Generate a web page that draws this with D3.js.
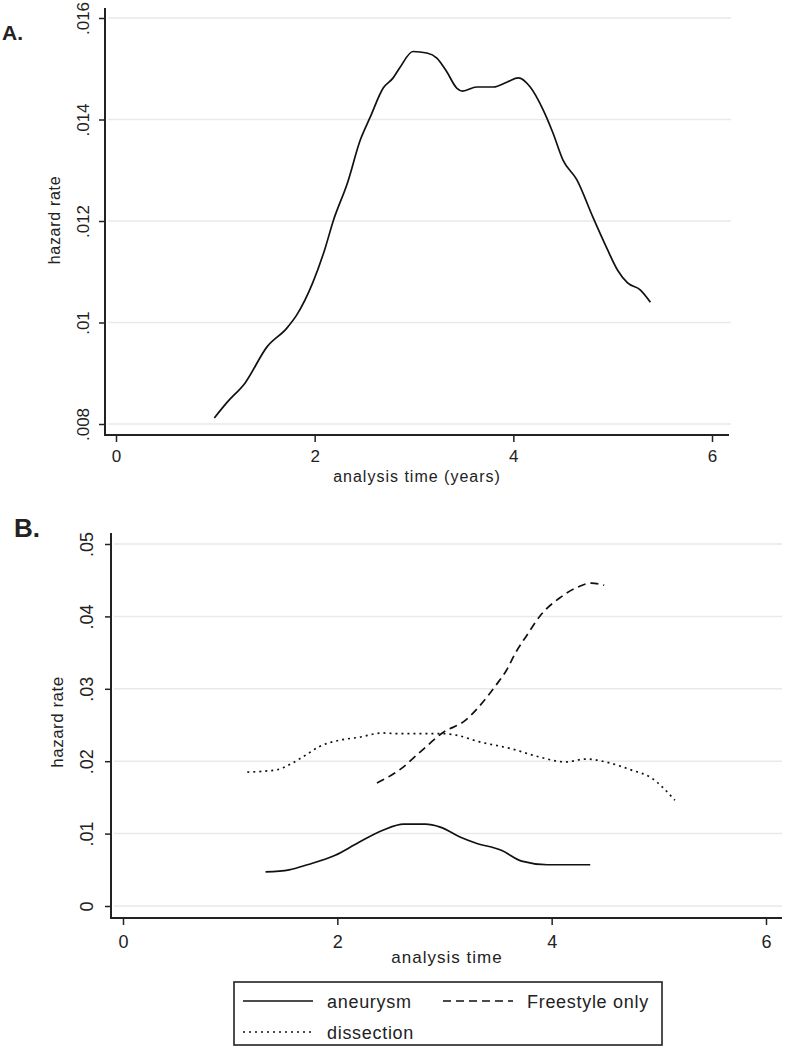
<!DOCTYPE html>
<html>
<head>
<meta charset="utf-8">
<script src="https://cdn.jsdelivr.net/npm/d3@7"></script>
<style>
  body { margin: 0; background: #fff; }
  text { font-family: "Liberation Sans", Arial, sans-serif; fill: #222; }
</style>
</head>
<body>
<svg width="806" height="1050"></svg>
<script>
// ---- data ----
// panel A: overall hazard
var timeA = [0.99, 1.12, 1.30, 1.52, 1.72, 1.82, 1.98, 2.10, 2.19, 2.33, 2.46, 2.56, 2.69, 2.79, 2.86,
             2.99, 3.13, 3.23, 3.33, 3.43, 3.49, 3.63, 3.80, 3.94, 4.05, 4.17, 4.30, 4.40, 4.50,
             4.64, 4.80, 4.94, 5.05, 5.15, 5.28, 5.38];
var hazardA = [0.00812, 0.00843, 0.00881, 0.00952, 0.00989, 0.01015, 0.01078, 0.01143, 0.01202, 0.01275,
               0.01360, 0.01405, 0.01462, 0.01482, 0.01503, 0.01534, 0.01531, 0.01521, 0.01494, 0.01462,
               0.01456, 0.01464, 0.01464, 0.01474, 0.01482, 0.01464, 0.01419, 0.01373, 0.01320, 0.01281,
               0.01208, 0.01147, 0.01103, 0.01078, 0.01064, 0.01040];

// panel B: hazard by group
var timeAneurysm = [1.33, 1.55, 1.72, 1.98, 2.19, 2.43, 2.62, 2.82, 2.96, 3.15, 3.29, 3.53, 3.72, 3.96, 4.36];
var hazardAneurysm = [0.0047, 0.0050, 0.0057, 0.0070, 0.0087, 0.0105, 0.0113, 0.0113, 0.0109, 0.0095,
                      0.0087, 0.0077, 0.0062, 0.0057, 0.0057];

var timeDissection = [1.16, 1.43, 1.55, 1.71, 1.83, 2.02, 2.20, 2.42, 2.58, 2.70, 2.98, 3.11, 3.32, 3.63,
                      3.88, 4.13, 4.32, 4.53, 4.74, 4.93, 5.15];
var hazardDissection = [0.0185, 0.0188, 0.0195, 0.0209, 0.0220, 0.0229, 0.0233, 0.0239, 0.0238, 0.0238,
                        0.0238, 0.0236, 0.0227, 0.0217, 0.0206, 0.0199, 0.0203, 0.0198, 0.0188, 0.0177, 0.0146];

var timeFreestyle = [2.37, 2.58, 2.79, 2.98, 3.20, 3.32, 3.48, 3.58, 3.66, 3.76, 3.91, 4.07, 4.25, 4.37, 4.49];
var hazardFreestyle = [0.0170, 0.0188, 0.0215, 0.0239, 0.0257, 0.0275, 0.0305, 0.0326, 0.0349, 0.0372,
                       0.0404, 0.0425, 0.0441, 0.0446, 0.0443];

// ticks
var xTicks = [0, 2, 4, 6];
var xLabels = ["0", "2", "4", "6"];
var yTicksA = [0.008, 0.010, 0.012, 0.014, 0.016];
var yLabelsA = [".008", ".01", ".012", ".014", ".016"];
var yTicksB = [0, 0.01, 0.02, 0.03, 0.04, 0.05];
var yLabelsB = ["0", ".01", ".02", ".03", ".04", ".05"];

var legendNames = ["aneurysm", "Freestyle only", "dissection"];

var svg = d3.select("svg");

function zip(xs, ys) { return xs.map(function(x, i) { return [x, ys[i]]; }); }

// draws one Stata-like panel
function panel(opt) {
    var x = d3.scaleLinear().domain([0, 6]).range(opt.xRange);
    var y = d3.scaleLinear().domain(opt.yDomain).range(opt.yRange);
    var g = svg.append("g");

    // grid
    g.selectAll(".grid")
        .data(opt.yTicks)
        .enter().append("line")
        .attr("x1", opt.axisX + 3).attr("x2", opt.gridRight)
        .attr("y1", function(d) { return y(d); })
        .attr("y2", function(d) { return y(d); })
        .attr("stroke", "#e9e9e9").attr("stroke-width", 1.5);

    // y axis
    var yAxis = g.append("g")
        .attr("transform", "translate(" + opt.axisX + ",0)")
        .call(d3.axisLeft(y).tickValues(opt.yTicks)
            .tickFormat(function(d, i) { return opt.yLabels[i]; })
            .tickSize(6).tickSizeOuter(0));
    yAxis.select(".domain").remove();
    yAxis.selectAll(".tick line").attr("stroke", "#222").attr("stroke-width", 1.5);
    yAxis.selectAll("text")
        .attr("x", null).attr("dy", null)
        .attr("transform", "translate(" + opt.yLabelOffset + ",0) rotate(-90)")
        .style("text-anchor", "middle")
        .style("font-size", opt.tickFont + "px")
        .style("font-family", "Liberation Sans, Arial, sans-serif")
        .attr("fill", "#222");

    // x axis
    var xAxis = g.append("g")
        .attr("transform", "translate(0," + opt.axisY + ")")
        .call(d3.axisBottom(x).tickValues(xTicks)
            .tickFormat(function(d, i) { return xLabels[i]; })
            .tickSize(7).tickSizeOuter(0));
    xAxis.select(".domain").remove();
    xAxis.selectAll(".tick line").attr("stroke", "#222").attr("stroke-width", 1.5);
    xAxis.selectAll("text")
        .attr("y", opt.xLabelOffset).attr("dy", null)
        .style("font-size", opt.tickFont + "px")
        .style("font-family", "Liberation Sans, Arial, sans-serif")
        .attr("fill", "#222");

    // axis lines
    g.append("line")
        .attr("x1", opt.axisX).attr("x2", opt.axisX)
        .attr("y1", opt.axisTop).attr("y2", opt.axisY + 1)
        .attr("stroke", "#222").attr("stroke-width", 2);
    g.append("line")
        .attr("x1", opt.axisX).attr("x2", opt.axisRight)
        .attr("y1", opt.axisY).attr("y2", opt.axisY)
        .attr("stroke", "#222").attr("stroke-width", 2);

    // titles
    g.append("text")
        .attr("transform", "translate(" + opt.yTitleX + "," + opt.yTitleY + ") rotate(-90)")
        .style("text-anchor", "middle")
        .style("font-size", opt.titleFont + "px")
        .style("letter-spacing", opt.yTitleSpacing + "px")
        .text("hazard rate");
    g.append("text")
        .attr("x", opt.xTitleX).attr("y", opt.xTitleY)
        .style("text-anchor", "middle")
        .style("font-size", opt.titleFont + "px")
        .style("letter-spacing", "1px")
        .text(opt.xTitle);

    g.append("text")
        .attr("x", opt.tag[0]).attr("y", opt.tag[1])
        .style("font-size", opt.tagFont + "px")
        .style("font-weight", "bold")
        .attr("fill", "#111")
        .text(opt.tagText);

    var line = d3.line()
        .x(function(d) { return x(d[0]); })
        .y(function(d) { return y(d[1]); })
        .curve(d3.curveMonotoneX);

    opt.series.forEach(function(s) {
        g.append("path")
            .datum(s.data)
            .attr("d", line)
            .attr("fill", "none")
            .attr("stroke", "#111")
            .attr("stroke-width", 1.7)
            .attr("stroke-dasharray", s.dash);
    });
}

panel({
    xRange: [116, 712], yDomain: [0.008, 0.016], yRange: [424, 18],
    yTicks: yTicksA, yLabels: yLabelsA,
    axisX: 105, axisY: 435, axisTop: 8, axisRight: 729, gridRight: 731,
    yLabelOffset: -16, xLabelOffset: 27, tickFont: 17,
    titleFont: 16, yTitleX: 60, yTitleY: 220, yTitleSpacing: 0.7,
    xTitle: "analysis time (years)", xTitleX: 417, xTitleY: 482,
    tag: [2, 40], tagFont: 21, tagText: "A.",
    series: [{ data: zip(timeA, hazardA), dash: null }]
});

var dashes = ["none", "8,5", "2,4"];

panel({
    xRange: [123, 766], yDomain: [0, 0.05], yRange: [906, 544],
    yTicks: yTicksB, yLabels: yLabelsB,
    axisX: 111, axisY: 918, axisTop: 533, axisRight: 782, gridRight: 782,
    yLabelOffset: -18, xLabelOffset: 30, tickFont: 18,
    titleFont: 17, yTitleX: 63, yTitleY: 722, yTitleSpacing: 0.5,
    xTitle: "analysis time", xTitleX: 447, xTitleY: 963,
    tag: [14, 537], tagFont: 26, tagText: "B.",
    series: [
        { data: zip(timeAneurysm, hazardAneurysm), dash: dashes[0] },
        { data: zip(timeFreestyle, hazardFreestyle), dash: dashes[1] },
        { data: zip(timeDissection, hazardDissection), dash: dashes[2] }
    ]
});

// legend
var leg = svg.append("g");
leg.append("rect")
    .attr("x", 234).attr("y", 982).attr("width", 428).attr("height", 63)
    .attr("fill", "none").attr("stroke", "#222").attr("stroke-width", 1.6);

var legendPos = [[243, 1001], [443, 1001], [243, 1032]];
legendNames.forEach(function(name, i) {
    var p = legendPos[i];
    leg.append("line")
        .attr("x1", p[0]).attr("x2", p[0] + 70)
        .attr("y1", p[1]).attr("y2", p[1])
        .attr("stroke", "#111").attr("stroke-width", 1.6)
        .attr("stroke-dasharray", dashes[i]);
    leg.append("text")
        .attr("x", p[0] + 84).attr("y", p[1] + 7)
        .style("font-size", "18px")
        .style("letter-spacing", "0.7px")
        .text(name);
});
</script>
</body>
</html>
